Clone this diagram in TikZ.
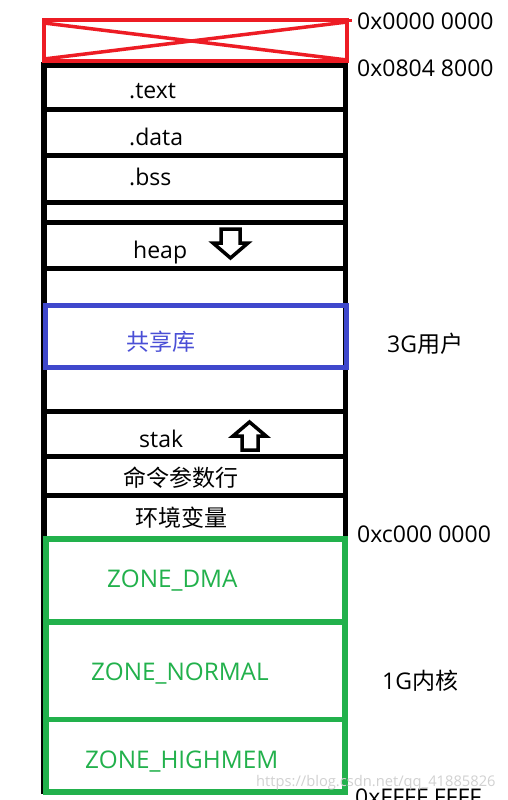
\documentclass[tikz,border=0pt]{standalone}
\usepackage{fontspec}
\setmainfont{Open Sans}
\newfontfamily\cjk{Noto Sans CJK SC}
\definecolor{pred}{HTML}{ED1C24}
\definecolor{pgreen}{HTML}{22B14C}
\definecolor{pblue}{HTML}{3F48CC}
\definecolor{tblue}{HTML}{4A4FD6}
\begin{document}
\begin{tikzpicture}[x=1pt,y=-1pt,
  lbl/.style={font=\fontsize{23}{23}\selectfont, inner sep=0, anchor=base west},
  zlbl/.style={lbl, text=pgreen, font=\fontsize{24.3}{24}\selectfont},
  bline/.style={line width=5pt, black},
  frame/.style={inner sep=0, outer sep=0, anchor=north west},
  garrow/.style={line width=3.5pt, black, line join=miter, fill=white}]
\useasboundingbox (0,0) rectangle (507,800);
\fill[white] (0,0) rectangle (507,800);

% outer black frame
\draw[bline, line width=6pt] (44,62) -- (44,794);
\draw[bline] (345,62) -- (345,537);
\foreach \yy in {66,109.5,155.5,202,222.5,268.5,411.5,456.5,495.5}
  \draw[bline] (41,\yy) -- (348,\yy);

% red reserved block
\node[frame, draw=pred, line width=4pt, minimum width=303pt, minimum height=41pt] (resv) at (44,20.5) {};
\draw[pred, line width=3.5pt] (44,23) -- (347,60);
\draw[pred, line width=3.5pt] (44,59) -- (347,22);
\draw[pred, line width=3pt] (345,21) -- (352,21);

% shared libraries
\node[frame, draw=pblue, line width=5pt, minimum width=301pt, minimum height=62pt] (shlib) at (45.5,305.5) {};

% kernel zone
\node[frame, draw=pgreen, line width=5.5pt, minimum width=299pt, minimum height=253pt] (kern) at (46,539) {};
\draw[pgreen, line width=6pt] (44,621.5) -- (348,621.5);
\draw[pgreen, line width=5.5pt] (44,719.5) -- (348,719.5);

% labels inside
\node[lbl] (ltext) at (129,98) {.text};
\node[lbl] (ldata) at (129,145) {.data};
\node[lbl] (lbss) at (129,185) {.bss};
\node[lbl] (lheap) at (133,258) {heap};
\node[lbl, text=tblue] (lshl) at (126,350) {\cjk 共享库};
\node[lbl] (lstak) at (139,447) {stak};
\node[lbl] (lcmd) at (123,486) {\cjk 命令参数行};
\node[lbl] (lenv) at (135,526) {\cjk 环境变量};
\node[zlbl] (ldma) at (107,587) {ZONE\_DMA};
\node[zlbl] (lnorm) at (91,680) {ZONE\_NORMAL};
\node[zlbl] (lhigh) at (85,768) {ZONE\_HIGHMEM};

% hollow arrows
\draw[garrow] (221,229) -- (240,229) -- (240,243) -- (248,243) -- (230.5,258) -- (213,243) -- (221,243) -- cycle;
\draw[garrow] (242,450) -- (258,450) -- (258,436) -- (266,436) -- (249.5,422) -- (233,436) -- (242,436) -- cycle;

% right labels
\node[lbl] (a0) at (357,30) {0x0000 0000};
\node[lbl] (a1) at (357,76) {0x0804 8000};
\node[lbl] (u3) at (387,352) {3G{\cjk 用户}};
\node[lbl] (a2) at (357,542) {0xc000 0000};
\node[lbl] (k1) at (382,689) {1G{\cjk 内核}};
\node[lbl] (a3) at (355,805) {0xFFFF FFFF};

% watermark
\node[anchor=base west, inner sep=0, text=black!18, font=\fontsize{14.7}{15}\selectfont] (wm) at (256,786) {https://blog.csdn.net/qq\_41885826};
\end{tikzpicture}
\end{document}
